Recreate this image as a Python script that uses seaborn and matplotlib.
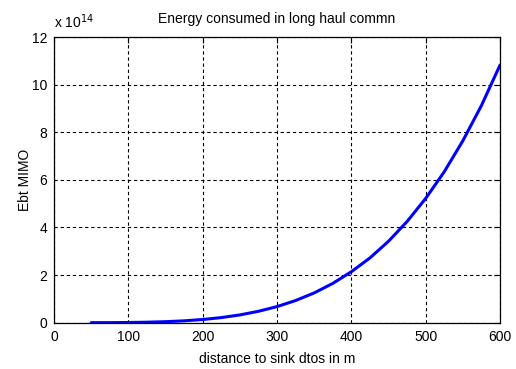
import matplotlib
matplotlib.use("Agg")
import matplotlib.pyplot as plt
import matplotlib.ticker as mticker
import numpy as np
import seaborn as sns
import pandas as pd

# distance to sink (m) and energy (units of 1e14)
distance = [50, 75, 100, 125, 150, 175, 200, 225, 250, 275, 300, 325,
            350, 375, 400, 425, 450, 475, 500, 525, 550, 575, 600]
energy_e14 = [0.0005, 0.0026, 0.0083, 0.0204, 0.0423, 0.078, 0.134, 0.214,
              0.326, 0.478, 0.676, 0.931, 1.25, 1.65, 2.14, 2.72, 3.42,
              4.25, 5.22, 6.34, 7.64, 9.12, 10.82]
xticks = [0, 100, 200, 300, 400, 500, 600]
yticks = [0, 2, 4, 6, 8, 10, 12]

df = pd.DataFrame({"d": distance, "E": np.array(energy_e14) * 1e14})

sns.set_style("white")
plt.rcParams['font.family'] = ['Liberation Sans', 'DejaVu Sans']
plt.rcParams['text.color'] = 'black'
plt.rcParams['axes.labelcolor'] = 'black'

fig = plt.figure(figsize=(5.16, 3.69), dpi=100)
ax = fig.add_axes([0.1047, 0.1255, 0.8643, 0.7742])

sns.lineplot(data=df, x="d", y="E", color=(0, 0, 1), linewidth=2.2, ax=ax)

ax.set_xlim(0, 600)
ax.set_ylim(0, 12e14)
ax.set_xticks(xticks)
ax.set_yticks([v * 1e14 for v in yticks])
ax.yaxis.set_major_formatter(mticker.FuncFormatter(lambda v, p: f"{v / 1e14:g}"))

ax.grid(True, color='black', linestyle=(0, (3, 2.5)), linewidth=0.8)
for s in ax.spines.values():
    s.set_color('black')
    s.set_linewidth(0.9)
ax.tick_params(direction='in', length=4, width=0.8, top=True, right=True,
               labelsize=10, colors='black', pad=5)

ax.set_title("Energy consumed in long haul commn", fontsize=10, pad=10, color='black')
ax.set_xlabel("distance to sink dtos in m", fontsize=10, labelpad=6)
ax.set_ylabel("Ebt MIMO", fontsize=10, labelpad=0)
ax.text(0.0, 1.02, r"x 10$^{14}$", transform=ax.transAxes, fontsize=10,
        ha='left', va='bottom')

fig.savefig("out.png", dpi=100)
